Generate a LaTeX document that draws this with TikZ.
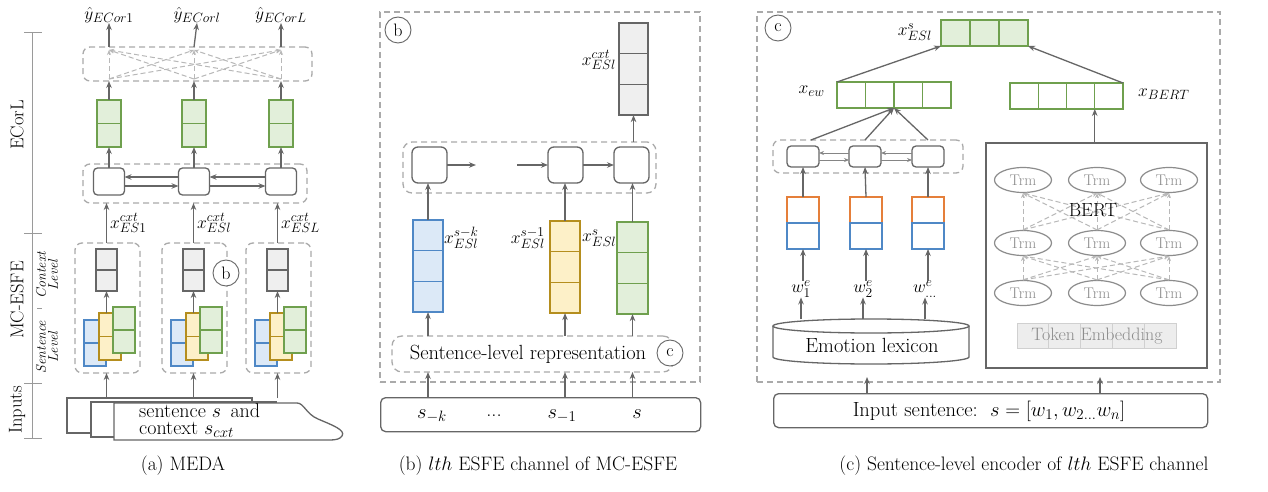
\RequirePackage{fix-cm}
\documentclass[tikz,border=0pt]{standalone}
\usepackage{fontspec}
\usetikzlibrary{arrows.meta,shapes.geometric,calc}
\DeclareMathSizes{17.5}{17.5}{13.5}{10.5}
\DeclareMathSizes{20.5}{20.5}{15}{12}
\DeclareMathSizes{20}{20}{15}{12}
\DeclareMathSizes{19.5}{19.5}{14.5}{11.5}
\definecolor{dk}{HTML}{666666}
\definecolor{dshc}{HTML}{AAAAAA}
\definecolor{xln}{HTML}{B8B8B8}
\definecolor{axc}{HTML}{9A9A9A}
\definecolor{gD}{HTML}{6FA04E}
\definecolor{gF}{HTML}{E2EFDA}
\definecolor{bD}{HTML}{4F88C6}
\definecolor{bF}{HTML}{DCE9F7}
\definecolor{yD}{HTML}{B58E1E}
\definecolor{yF}{HTML}{FDF0C8}
\definecolor{oD}{HTML}{E57F3A}
\definecolor{grF}{HTML}{EFEFEF}
\definecolor{trm}{HTML}{8C8C8C}
\definecolor{teD}{HTML}{D0D0D0}
\definecolor{teF}{HTML}{EDEDED}
\newcommand{\vcells}[7]{%
  \foreach \ci in {1,...,#6}{%
    \node[cellbase,#7,minimum width=#4pt,minimum height=#5pt,anchor=north west] (#1-\ci) at ({#2},{#3+(\ci-1)*#5}) {};
  }}
\newcommand{\hcells}[7]{%
  \foreach \ci in {1,...,#6}{%
    \node[cellbase,#7,minimum width=#4pt,minimum height=#5pt,anchor=north west] (#1-\ci) at ({#2+(\ci-1)*#4},{#3}) {};
  }}
\begin{document}
\begin{tikzpicture}[x=1pt,y=-1pt,
  cellbase/.style={inner sep=0pt,outer sep=0pt,line width=1.3pt,draw},
  gcell/.style={draw=gD,fill=gF},
  gwcell/.style={draw=gD,fill=white},
  bcell/.style={draw=bD,fill=bF},
  bwcell/.style={draw=bD,fill=white},
  ocell/.style={draw=oD,fill=white},
  ycell/.style={draw=yD,fill=yF},
  grcell/.style={draw=dk,fill=grF},
  tecell/.style={draw=teD,fill=teF,line width=0.8pt},
  dbox/.style={draw=dshc,line width=1.3pt,dash pattern=on 6pt off 4pt,rounded corners=7pt,inner sep=0pt,outer sep=0pt,anchor=north west},
  dframe/.style={draw=dshc,line width=1.3pt,dash pattern=on 6pt off 4pt,inner sep=0pt,outer sep=0pt,anchor=north west},
  lcell/.style={draw=dk,line width=1.3pt,rounded corners=4pt,fill=white,inner sep=0pt,outer sep=0pt},
  arr/.style={draw=dk,line width=1.3pt,-{Stealth[length=7pt,width=5.5pt]}},
  tarr/.style={draw=dk!80,line width=0.8pt,-{Stealth[length=5pt,width=4pt]}},
  xarr/.style={draw=xln,line width=1pt,dash pattern=on 5pt off 3pt,-{Stealth[length=5pt,width=4pt]}},
  axl/.style={draw=axc,line width=1pt},
  circ/.style={circle,draw=dk,line width=0.9pt,fill=white,minimum size=26pt,inner sep=0pt,font=\fontsize{18}{18}\selectfont},
  txt/.style={inner sep=0pt,font=\fontsize{20.5}{21}\selectfont},
  mlab/.style={inner sep=0pt,font=\fontsize{17.5}{17}\selectfont},
  biglab/.style={inner sep=0pt,font=\fontsize{18.5}{19}\selectfont},
  sublab/.style={inner sep=0pt,font=\fontsize{14}{12}\selectfont\itshape,align=center},
  captxt/.style={inner sep=0pt,font=\fontsize{19.5}{20}\selectfont},
  trmn/.style={ellipse,draw=trm,line width=1.2pt,minimum width=57pt,minimum height=25pt,inner sep=0pt,text=trm,font=\fontsize{15.5}{15}\selectfont}
]
\useasboundingbox (0,0) rectangle (1268,492);
\fill[white] (0,0) rectangle (1268,492);

%% ================= Panel (a) =================
\draw[axl] (32,33) -- (32,438);
\draw[axl] (24,33) -- (42,33);
\draw[axl] (24,233) -- (42,233);
\draw[axl] (37,308) -- (42,308);
\draw[axl] (24,383) -- (42,383);
\draw[axl] (24,438) -- (42,438);
\node[biglab,rotate=90] (lECorL) at (17,125) {ECorL};
\node[biglab,rotate=90] (lMC) at (17,300) {MC-ESFE};
\node[biglab,rotate=90] (lIn) at (17,410) {Inputs};
\node[sublab,rotate=90] (lCtx) at (47,275) {Context\\Level};
\node[sublab,rotate=90] (lSen) at (47,347) {Sentence\\Level};

\node[dbox,minimum width=229pt,minimum height=34pt] (aTop) at (83,47) {};
\node[dbox,minimum width=224pt,minimum height=39pt] (aMid) at (83,164) {};

\foreach \k/\cx in {1/109,2/194,3/281}{
  \coordinate (aT\k) at (\cx,50);
  \coordinate (aB\k) at (\cx,79);
}
\foreach \i in {1,2,3}{\foreach \j in {1,2,3}{
  \draw[xarr] (aB\i) -- (aT\j);
}}
\node[mlab] (aY1) at (109,15) {$\hat{y}_{ECor1}$};
\node[mlab] (aY2) at (197,15) {$\hat{y}_{ECorl}$};
\node[mlab] (aY3) at (281,15) {$\hat{y}_{ECorL}$};

\foreach \k/\cx in {1/109,2/194,3/281}{
  \vcells{aG\k}{\cx-12}{100}{24}{23.5}{2}{gcell}
  \node[lcell,minimum width=31pt,minimum height=27pt] (aL\k) at (\cx,181.5) {};
  \draw[arr] (aTop.north -| aG\k-1.north) -- (aY\k.south);
  \draw[arr] (aG\k-1.north) -- (aG\k-1.north |- aTop.south);
  \draw[arr] (aL\k.north) -- (aG\k-2.south);
}
\draw[arr] ([yshift=4.5pt]aL2.west) -- ([yshift=4.5pt]aL1.east);
\draw[arr] ([yshift=-4.5pt]aL1.east) -- ([yshift=-4.5pt]aL2.west);
\draw[arr] ([yshift=4.5pt]aL3.west) -- ([yshift=4.5pt]aL2.east);
\draw[arr] ([yshift=-4.5pt]aL2.east) -- ([yshift=-4.5pt]aL3.west);

% ESFE channels
\foreach \k/\bx in {1/84,2/171,3/255}{
  \node[dbox,minimum width=65pt,minimum height=130pt] (aE\k) at ({\bx-9},243) {};
  \vcells{aC\k}{\bx+12}{249}{21}{21}{2}{grcell}
  \vcells{aSb\k}{\bx}{320}{22}{23}{2}{bcell}
  \vcells{aSy\k}{\bx+15}{313}{22}{23.5}{2}{ycell}
  \vcells{aSg\k}{\bx+29}{307}{22}{23}{2}{gcell}
  \draw[arr] (aC\k-2.south |- aSy\k-1.north) -- (aC\k-2.south);
  \draw[arr] (aC\k-1.north |- aE\k.north) -- (aC\k-1.north |- aMid.south);
  \coordinate (aIn\k) at ({\bx+22.5},398);
  \draw[arr] (aIn\k) -- (aIn\k |- aE\k.south);
}
\node[mlab,anchor=west] (aX1) at (110,223) {$x^{cxt}_{ES1}$};
\node[mlab,anchor=west] (aX2) at (197,223) {$x^{cxt}_{ESl}$};
\node[mlab,anchor=west] (aX3) at (281,223) {$x^{cxt}_{ESL}$};
\node[circ] (aCb) at (226,273) {b};

% input pages
\node[cellbase,draw=dk,fill=white,minimum width=185pt,minimum height=35pt,anchor=north west] (aP1) at (67,398) {};
\node[cellbase,draw=dk,fill=white,minimum width=185pt,minimum height=35pt,anchor=north west] (aP2) at (91,402) {};
\draw[draw=dk,line width=1.3pt,fill=white] (114,403) -- (297,403)
  .. controls (304,403) and (306,414) .. (318,419)
  .. controls (332,425) and (346,430) .. (342,436)
  .. controls (340,439) and (336,440) .. (330,440) -- (114,440) -- cycle;
\node[txt,anchor=west,align=left,font=\fontsize{20}{17}\selectfont] (aPt) at (139,421) {sentence $s$ \,and\\context $s_{cxt}$};

%% ================= Panel (b) =================
\node[dframe,minimum width=320pt,minimum height=370pt] (bOut) at (380,12) {};
\node[circ] (bCb) at (398,30) {b};
\vcells{bGt}{619}{23}{29}{30.7}{3}{grcell}
\node[mlab,anchor=east] (bXc) at (616,60) {$x^{cxt}_{ESl}$};
\node[dbox,minimum width=253pt,minimum height=51pt,rounded corners=9pt] (bL) at (403,142) {};
\node[lcell,minimum width=35pt,minimum height=36pt,anchor=north west,rounded corners=6pt] (bL1) at (412,147) {};
\node[lcell,minimum width=35pt,minimum height=36pt,anchor=north west,rounded corners=6pt] (bL2) at (548,147) {};
\node[lcell,minimum width=35pt,minimum height=36pt,anchor=north west,rounded corners=6pt] (bL3) at (614,147) {};
\coordinate (bD1) at (476,165);
\coordinate (bD2) at (517,165);
\draw[arr] (bL1.east) -- (bD1);
\draw[arr] (bD2) -- (bL2.west);
\draw[arr] (bL2.east) -- (bL3.west);
\draw[arr] (bGt-3.south |- bL.north) -- (bGt-3.south);

\vcells{bB}{413}{220}{30}{30.7}{3}{bcell}
\vcells{bY}{550}{221}{30}{30.7}{3}{ycell}
\vcells{bG}{617}{222}{31}{30.7}{3}{gcell}
\node[mlab,anchor=west] (bXk) at (444,238) {$x^{s-k}_{ESl}$};
\node[mlab,anchor=east] (bX1) at (545,238) {$x^{s-1}_{ESl}$};
\node[mlab,anchor=west] (bXs) at (582,238) {$x^{s}_{ESl}$};
\draw[arr] (bB-1.north) -- (bB-1.north |- bL1.south);
\draw[arr] (bY-1.north) -- (bY-1.north |- bL2.south);
\draw[arr] (bG-1.north) -- (bG-1.north |- bL3.south);

\node[dbox,minimum width=281pt,minimum height=36pt,rounded corners=10pt] (bS) at (392,336) {};
\node[txt] (bSt) at (528,354) {Sentence-level representation};
\node[circ] (bCc) at (670,353) {c};
\draw[arr] (bB-3.south |- bS.north) -- (bB-3.south);
\draw[arr] (bY-3.south |- bS.north) -- (bY-3.south);
\draw[arr] (bG-3.south |- bS.north) -- (bG-3.south);

\node[draw=dk,line width=1.3pt,rounded corners=5pt,minimum width=320pt,minimum height=34pt,inner sep=0pt,anchor=north west] (bIn) at (380,397) {};
\node[txt] (bs1) at (432,416) {$s_{-k}$};
\node[txt] (bs2) at (494,416) {...};
\node[txt] (bs3) at (562,416) {$s_{-1}$};
\node[txt] (bs4) at (637,414) {$s$};
\draw[arr] (bB-3.south |- bIn.north) -- (bB-3.south |- bS.south);
\draw[arr] (bY-3.south |- bIn.north) -- (bY-3.south |- bS.south);
\draw[arr] (bG-3.south |- bIn.north) -- (bG-3.south |- bS.south);

%% ================= Panel (c) =================
\node[dframe,minimum width=463pt,minimum height=370pt] (cOut) at (757,12) {};
\node[circ] (cCc) at (778,28) {c};
\hcells{cTop}{941}{20}{29}{26}{3}{gcell}
\node[mlab,anchor=east] (cXs) at (932,32) {$x^{s}_{ESl}$};
\hcells{cEW}{837}{82}{28.5}{26}{4}{gwcell}
\node[mlab,anchor=east] (cXew) at (825,91) {$x_{ew}$};
\hcells{cBT}{1010}{83}{28.25}{26}{4}{gwcell}
\node[mlab,anchor=west] (cXb) at (1138,94) {$x_{BERT}$};
\draw[arr] (cEW-1.north west) -- (cTop-1.south west);
\draw[arr] (cBT-4.north east) -- (cTop-3.south east);

\node[dbox,minimum width=190pt,minimum height=33pt] (cL) at (773,140) {};
\node[lcell,minimum width=32pt,minimum height=21pt,anchor=north west] (cL1) at (787,146) {};
\node[lcell,minimum width=32pt,minimum height=21pt,anchor=north west] (cL2) at (849,146) {};
\node[lcell,minimum width=32pt,minimum height=21pt,anchor=north west] (cL3) at (912,146) {};
\draw[tarr] ([yshift=3.5pt]cL2.west) -- ([yshift=3.5pt]cL1.east);
\draw[tarr] ([yshift=-3.5pt]cL1.east) -- ([yshift=-3.5pt]cL2.west);
\draw[tarr] ([yshift=3.5pt]cL3.west) -- ([yshift=3.5pt]cL2.east);
\draw[tarr] ([yshift=-3.5pt]cL2.east) -- ([yshift=-3.5pt]cL3.west);
\draw[arr] ([xshift=-8pt]cL.north -| cL1.north east) -- (cEW-2.south east);
\draw[arr] (cL.north -| cL2.north) -- (cEW-2.south east);
\draw[arr] (cL.north -| cL3.north) -- (cEW-2.south east);

\foreach \k/\bx in {1/787,2/850,3/912}{
  \node[cellbase,ocell,minimum width=32pt,minimum height=26pt,anchor=north west] (cO\k) at (\bx,197) {};
  \node[cellbase,bwcell,minimum width=32pt,minimum height=26pt,anchor=north west] (cB\k) at (\bx,223) {};
  \draw[arr] (cO\k.north) -- (cL\k.south);
}
\node[mlab] (cW1) at (801,289) {$w^{e}_{1}$};
\node[mlab] (cW2) at (863,289) {$w^{e}_{2}$};
\node[mlab] (cW3) at (925,289) {$w^{e}_{\ldots}$};
\draw[arr] (cB1.south |- cW1.north) -- (cB1.south);
\draw[arr] (cB2.south |- cW2.north) -- (cB2.south);
\draw[arr] (cB3.south |- cW3.north) -- (cB3.south);

% cylinder
\draw[draw=dk,line width=1.3pt,fill=white] (773,326) -- (773,357)
  arc[start angle=180,end angle=360,x radius=98pt,y radius=7pt] -- (969,326);
\draw[draw=dk,line width=1.3pt,fill=white] (871,326) ellipse [x radius=98pt,y radius=7pt];
\coordinate (cLexT) at (871,319);
\node[txt] (cLex) at (872,345) {Emotion lexicon};
\draw[arr] (cLexT -| cW1.south) -- (cW1.south);
\draw[arr] (cLexT -| cW2.south) -- (cW2.south);
\draw[arr] (cLexT -| cW3.south) -- (cW3.south);

% BERT
\node[draw=dk,line width=1.6pt,minimum width=221pt,minimum height=225pt,inner sep=0pt,anchor=north west] (cBert) at (985,142) {};
\draw[arr] (cBert.north -| cBT-3.south east) -- (cBT-3.south east);
\foreach \k/\xx in {1/1023,2/1097,3/1169}{
  \node[trmn] (cR1\k) at (\xx,180) {Trm};
  \node[trmn] (cR2\k) at (\xx,243) {Trm};
  \node[trmn] (cR3\k) at (\xx,293) {Trm};
}
\foreach \i in {1,2,3}{\foreach \j in {1,2,3}{
  \draw[xarr] (cR3\i.north) -- (cR2\j.south);
  \draw[xarr] (cR2\i.north) -- (cR1\j.south);
}}
\node[txt,font=\fontsize{19}{19}\selectfont] (cBt) at (1093,210) {BERT};
\hcells{cTE}{1017}{323}{31.8}{25}{5}{tecell}
\node[txt,text=black!45,font=\fontsize{18}{18}\selectfont] (cTEt) at (1097,336) {Token Embedding};

\node[draw=dk,line width=1.3pt,rounded corners=5pt,minimum width=434pt,minimum height=34pt,inner sep=0pt,anchor=north west] (cIn) at (773,393) {};
\node[txt] (cInt) at (989,411) {Input sentence:\ \ $s=[w_1,w_{2\ldots}w_n]$};
\coordinate (cA1) at (867,377);
\coordinate (cA2) at (1100,377);
\draw[arr] (cIn.north -| cA1) -- (cA1);
\draw[arr] (cIn.north -| cA2) -- (cA2);

%% captions
\node[captxt] (capA) at (183,466) {(a) MEDA};
\node[captxt] (capB) at (538,466) {(b) $lth$ ESFE channel of MC-ESFE};
\node[captxt] (capC) at (1024,466) {(c) Sentence-level encoder of $lth$ ESFE channel};
\end{tikzpicture}
\end{document}
